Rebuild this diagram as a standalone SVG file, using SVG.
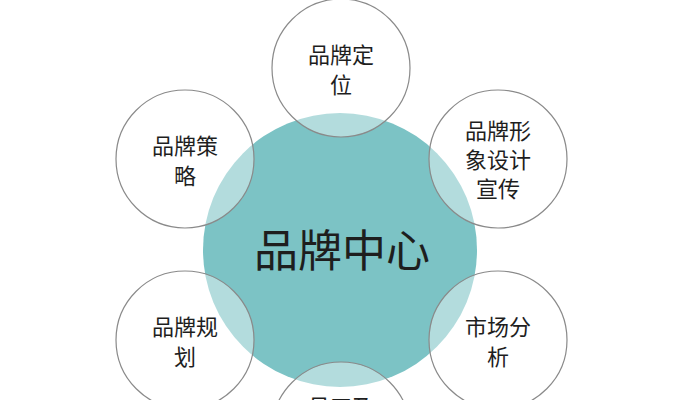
<svg xmlns="http://www.w3.org/2000/svg" width="683" height="400" viewBox="0 0 683 400">
<style>
.hub{fill:#7cc3c5;}
.sat{fill:#ffffff;fill-opacity:0.42;stroke:#8a8a8a;stroke-width:1.2;}
.lbl{font-family:"Noto Sans CJK SC","Noto Sans",sans-serif;font-size:22px;fill:#1e1e1e;text-anchor:middle;dominant-baseline:central;}
.hubl{font-family:"Noto Sans CJK SC","Noto Sans",sans-serif;font-size:44px;fill:#1e1e1e;text-anchor:middle;dominant-baseline:central;}
</style>
<rect width="683" height="400" fill="#ffffff"/>
<g id="connectors"></g>
<g id="hub">
<circle class="hub" cx="340" cy="250" r="137"/>
</g>
<g id="n-top">
<circle class="sat" cx="341" cy="68" r="69"/>
<text class="lbl" x="341" y="53">品牌定</text>
<text class="lbl" x="341" y="83">位</text>
</g>
<g id="n-ul">
<circle class="sat" cx="185" cy="159" r="69"/>
<text class="lbl" x="185" y="144">品牌策</text>
<text class="lbl" x="185" y="174">略</text>
</g>
<g id="n-ur">
<circle class="sat" cx="498" cy="159" r="69"/>
<text class="lbl" x="498" y="129">品牌形</text>
<text class="lbl" x="498" y="158">象设计</text>
<text class="lbl" x="498" y="187">宣传</text>
</g>
<g id="n-ll">
<circle class="sat" cx="185" cy="340" r="69"/>
<text class="lbl" x="185" y="325">品牌规</text>
<text class="lbl" x="185" y="355">划</text>
</g>
<g id="n-lr">
<circle class="sat" cx="498" cy="340" r="69"/>
<text class="lbl" x="498" y="325">市场分</text>
<text class="lbl" x="498" y="355">析</text>
</g>
<g id="n-bottom">
<circle class="sat" cx="341" cy="431" r="69"/>
<text class="lbl" x="341" y="405">员工及</text>
</g>
<g id="hub-label">
<text class="hubl" x="342" y="248">品牌中心</text>
</g>
</svg>
